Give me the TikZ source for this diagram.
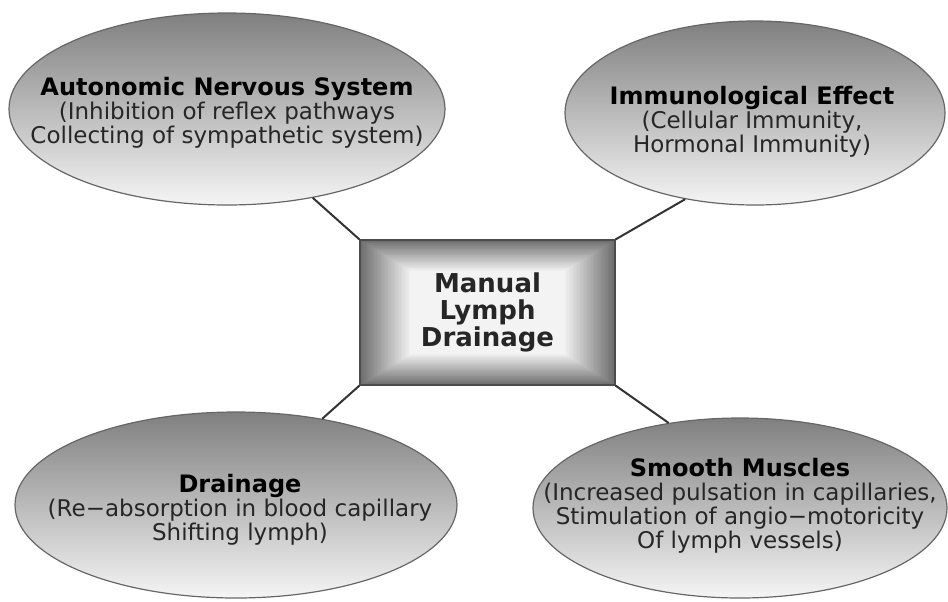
\documentclass[tikz,border=0pt]{standalone}
\usepackage{fontspec}
\setmainfont{DejaVu Sans}
\usetikzlibrary{shapes.geometric}

\newcommand\blobhead{\fontsize{12}{12}\selectfont\bfseries\color{black}}

\tikzset{
    blob/.style={ellipse, draw=black!60, line width=0.6pt, inner sep=0pt,
        top color=black!50, bottom color=black!4},
    blobtext/.style={align=center, text=black!85,
        font=\fontsize{11.5}{12}\selectfont},
    mldbox/.style={rectangle, draw=black!70, line width=0.6pt,
        minimum width=127.5pt, minimum height=72.5pt, align=center,
        text=black!85, font=\bfseries\fontsize{13}{13.5}\selectfont,
        path picture={
            \foreach \k in {0,...,36}{
                \pgfmathsetmacro\tone{57-1.45*\k}
                \fill[black!\tone]
                    ([shift={({0.7pt*\k},{0.43pt*\k})}]path picture bounding box.south west)
                    rectangle
                    ([shift={({-0.7pt*\k},{-0.43pt*\k})}]path picture bounding box.north east);
            }
        }},
    link/.style={line width=1pt, black!80},
}

\begin{document}
\begin{tikzpicture}[x=0.5pt, y=-0.5pt]
    \useasboundingbox (0,0) rectangle (948,601);

    % Khung trung tâm
    \node[mldbox] (mld) at (487.5,312.5) {Manual\\Lymph\\Drainage};

    % Bốn hình elip
    \node[blob, minimum width=218pt, minimum height=96pt] (ans) at (227,109) {};
    \node[blob, minimum width=190pt, minimum height=92pt] (irm) at (755,113) {};
    \node[blob, minimum width=221pt, minimum height=93pt] (drn) at (236,505) {};
    \node[blob, minimum width=207pt, minimum height=90pt] (smm) at (740,508) {};

    % Nội dung các elip
    \node[blobtext] (anstxt) at (227,113)
        {{\blobhead Autonomic Nervous System}\\(Inhibition of reflex pathways\\Collecting of sympathetic system)};
    \node[blobtext] (irmtxt) at (752,122)
        {{\blobhead Immunological Effect}\\(Cellular Immunity,\\Hormonal Immunity)};
    \node[blobtext] (drntxt) at (240,510)
        {{\blobhead Drainage}\\(Re−absorption in blood capillary\\Shifting lymph)};
    \node[blobtext] (smmtxt) at (740,506)
        {{\blobhead Smooth Muscles}\\(Increased pulsation in capillaries,\\Stimulation of angio−motoricity\\Of lymph vessels)};

    % Đường nối
    \draw[link] (mld.north west) -- (ans.314);
    \draw[link] (mld.north east) -- (irm.231);
    \draw[link] (mld.south west) -- (drn.45);
    \draw[link] (mld.south east) -- (smm.130);
\end{tikzpicture}
\end{document}
